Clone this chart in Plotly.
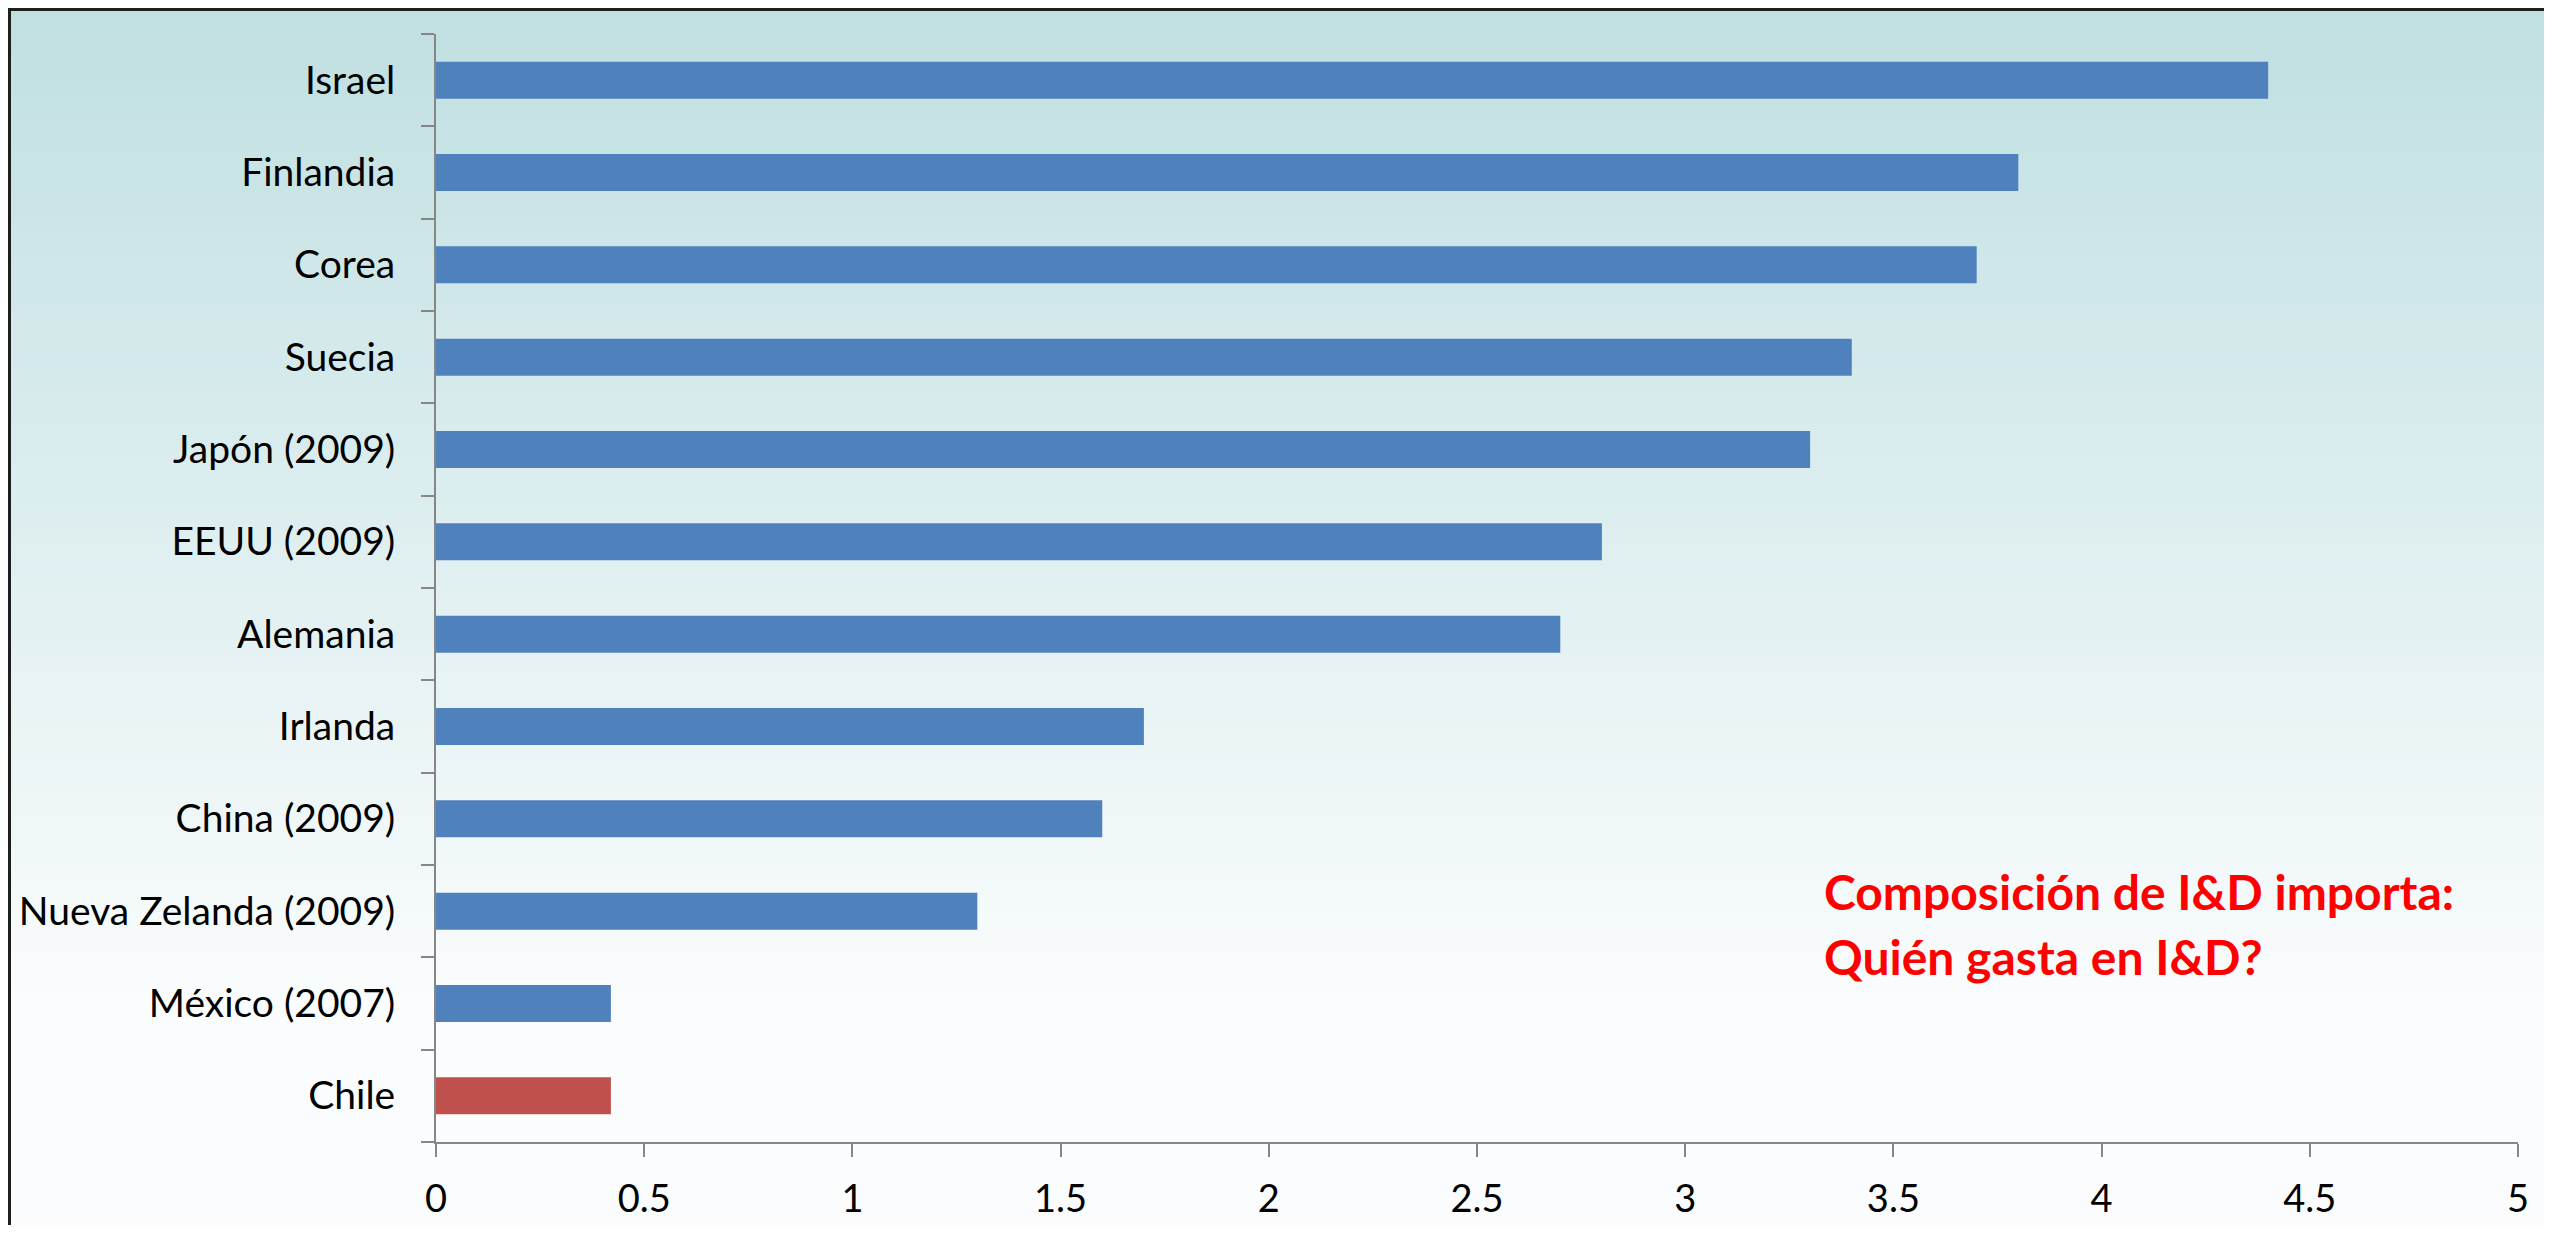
import plotly.graph_objects as go

# Data (top to bottom as shown)
countries = ["Israel", "Finlandia", "Corea", "Suecia", "Japón (2009)", "EEUU (2009)",
             "Alemania", "Irlanda", "China (2009)", "Nueva Zelanda (2009)", "México (2007)", "Chile"]
values = [4.40, 3.80, 3.70, 3.40, 3.30, 2.80, 2.70, 1.70, 1.60, 1.30, 0.42, 0.42]
bar_colors = ["#4F81BD"] * 11 + ["#C0504D"]
x_ticks = [0, 0.5, 1, 1.5, 2, 2.5, 3, 3.5, 4, 4.5, 5]
x_ticklabels = ["0", "0.5", "1", "1.5", "2", "2.5", "3", "3.5", "4", "4.5", "5"]
note_lines = ["Composición de I&D importa:", "Quién gasta en I&D?"]

OFF = 8  # page body margin
W, H = 2552 - 2 * OFF, 1233 - 2 * OFF
# desired page positions of the plot area
PL, PR, PT, PB = 436, 2518, 34, 1142
ML = PL - OFF
MT = PT - OFF
MR = W + OFF - PR
MB = H + OFF - PB
PW = PR - PL
PH = PB - PT


def px_to_paper_x(p):
    return (p - PL) / PW


def px_to_paper_y(p):
    return (PB - p) / PH


fig = go.Figure()
fig.add_trace(go.Bar(
    x=values[::-1], y=countries[::-1], orientation="h",
    marker=dict(color=bar_colors[::-1], line=dict(width=0)),
    width=0.4,
    hoverinfo="x+y",
))

# Background gradient bands (style only), page coordinates
shapes = []
top_c = (191, 223, 225)
bot_c = (250, 252, 253)
n = 90
band = (H + OFF) / n
for i in range(n):
    y0 = i * band
    y1 = (i + 1) * band + 1
    t = min(1.0, (y0 + band / 2) / 1000.0)
    c = tuple(round(top_c[k] + (bot_c[k] - top_c[k]) * t) for k in range(3))
    shapes.append(dict(
        type="rect", xref="paper", yref="paper", layer="below",
        x0=px_to_paper_x(0), x1=px_to_paper_x(W + OFF + 5),
        y0=px_to_paper_y(y1), y1=px_to_paper_y(y0),
        fillcolor="rgb(%d,%d,%d)" % c, line=dict(width=0),
    ))
# frame border: top and left edges only
shapes.append(dict(
    type="line", xref="paper", yref="paper", layer="above",
    x0=px_to_paper_x(OFF), x1=px_to_paper_x(W + OFF),
    y0=px_to_paper_y(OFF + 1.5), y1=px_to_paper_y(OFF + 1.5),
    line=dict(color="#1e1e1e", width=3),
))
shapes.append(dict(
    type="line", xref="paper", yref="paper", layer="above",
    x0=px_to_paper_x(OFF + 1.5), x1=px_to_paper_x(OFF + 1.5),
    y0=px_to_paper_y(OFF), y1=px_to_paper_y(H + OFF),
    line=dict(color="#1e1e1e", width=3),
))
# x-axis line extension to the left (Excel style)
shapes.append(dict(
    type="line", xref="paper", yref="paper", layer="above",
    x0=px_to_paper_x(423), x1=px_to_paper_x(436),
    y0=0, y1=0, line=dict(color="#868686", width=2),
))

fig.update_layout(
    width=W, height=H,
    margin=dict(l=ML, r=MR, t=MT, b=MB, pad=0, autoexpand=False),
    paper_bgcolor="rgb(250,252,253)",
    plot_bgcolor="rgba(0,0,0,0)",
    showlegend=False,
    bargap=0.6,
    shapes=shapes,
    font=dict(family="Lato, Carlito, Calibri, sans-serif", color="#000000"),
)
fig.update_xaxes(
    range=[0, 5], tickvals=x_ticks, ticktext=x_ticklabels,
    showgrid=False, zeroline=False, automargin=False,
    showline=True, linecolor="#868686", linewidth=2,
    ticks="outside", ticklen=13, tickwidth=2, tickcolor="#868686",
    tickfont=dict(size=38, family="Lato, sans-serif", color="#000000"),
    ticklabelstandoff=9,
)
fig.update_yaxes(
    type="category", categoryorder="array", categoryarray=countries[::-1],
    range=[-0.5, 11.5],
    showgrid=False, zeroline=False, automargin=False,
    showline=True, linecolor="#868686", linewidth=2,
    ticks="outside", ticklen=13, tickwidth=2, tickcolor="#868686",
    tickson="boundaries",
    tickfont=dict(size=39, family="Lato, sans-serif", color="#000000"),
    ticklabelstandoff=31,
)
for line_text, ypx in zip(note_lines, [891, 956]):
    fig.add_annotation(
        text=line_text, xref="paper", yref="paper",
        x=px_to_paper_x(1822), y=px_to_paper_y(ypx),
        xanchor="left", yanchor="middle", align="left", showarrow=False,
        font=dict(size=48, family="Lato, sans-serif", color="#FF0000", weight="bold"),
    )

fig.write_html("out.html")
